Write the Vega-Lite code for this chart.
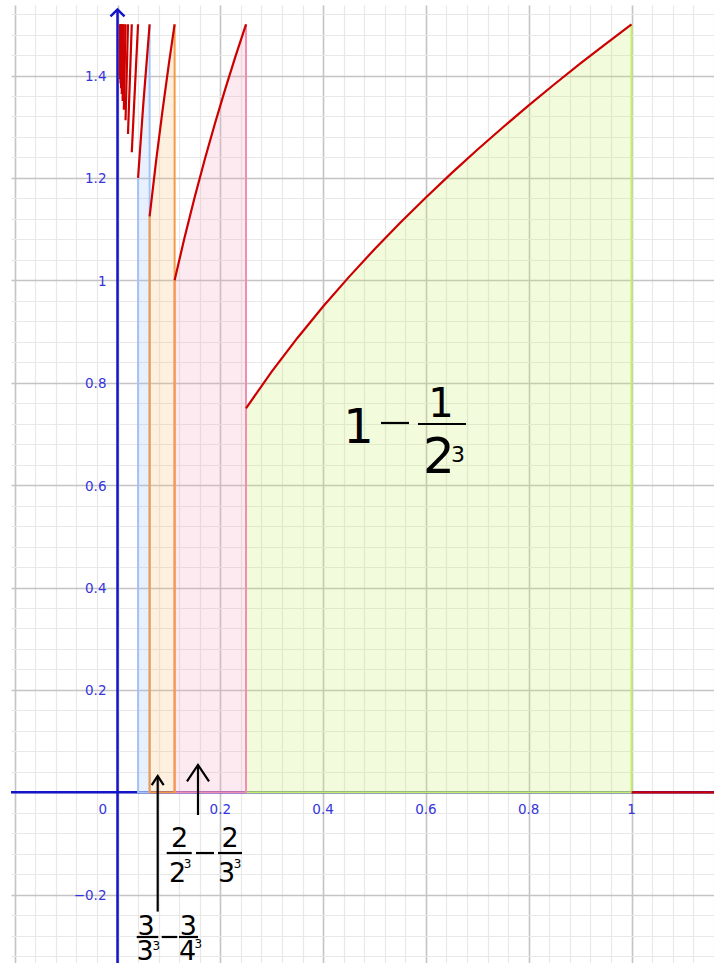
{
  "$schema": "https://vega.github.io/schema/vega-lite/v6.json",
  "width": 703,
  "height": 958,
  "autosize": {"type": "none"},
  "padding": {"left": 11, "top": 5, "right": 0, "bottom": 0},
  "background": "white",
  "config": {"view": {"stroke": null}},
  "datasets": {
    "curve": [
      {"seg": 1, "x": 0.25, "y": 0.75}, {"seg": 1, "x": 0.3, "y": 0.8216}, {"seg": 1, "x": 0.35, "y": 0.8874},
      {"seg": 1, "x": 0.4, "y": 0.9487}, {"seg": 1, "x": 0.45, "y": 1.0062}, {"seg": 1, "x": 0.5, "y": 1.0607},
      {"seg": 1, "x": 0.55, "y": 1.1124}, {"seg": 1, "x": 0.6, "y": 1.1619}, {"seg": 1, "x": 0.65, "y": 1.2093},
      {"seg": 1, "x": 0.7, "y": 1.255}, {"seg": 1, "x": 0.75, "y": 1.299}, {"seg": 1, "x": 0.8, "y": 1.3416},
      {"seg": 1, "x": 0.85, "y": 1.3829}, {"seg": 1, "x": 0.9, "y": 1.423}, {"seg": 1, "x": 0.95, "y": 1.462},
      {"seg": 1, "x": 1, "y": 1.5},
      {"seg": 2, "x": 0.1111, "y": 1.0}, {"seg": 2, "x": 0.13, "y": 1.0817}, {"seg": 2, "x": 0.15, "y": 1.1619},
      {"seg": 2, "x": 0.17, "y": 1.2369}, {"seg": 2, "x": 0.19, "y": 1.3077}, {"seg": 2, "x": 0.21, "y": 1.3748},
      {"seg": 2, "x": 0.23, "y": 1.4387}, {"seg": 2, "x": 0.25, "y": 1.5},
      {"seg": 3, "x": 0.0625, "y": 1.125}, {"seg": 3, "x": 0.075, "y": 1.2324}, {"seg": 3, "x": 0.0875, "y": 1.3311},
      {"seg": 3, "x": 0.1, "y": 1.423}, {"seg": 3, "x": 0.1111, "y": 1.5},
      {"seg": 4, "x": 0.04, "y": 1.2}, {"seg": 4, "x": 0.05, "y": 1.3416}, {"seg": 4, "x": 0.0625, "y": 1.5},
      {"seg": 5, "x": 0.02778, "y": 1.25}, {"seg": 5, "x": 0.04, "y": 1.5},
      {"seg": 6, "x": 0.02041, "y": 1.2857}, {"seg": 6, "x": 0.02778, "y": 1.5},
      {"seg": 7, "x": 0.01563, "y": 1.3125}, {"seg": 7, "x": 0.02041, "y": 1.5},
      {"seg": 8, "x": 0.01235, "y": 1.3333}, {"seg": 8, "x": 0.01563, "y": 1.5},
      {"seg": 9, "x": 0.01, "y": 1.35}, {"seg": 9, "x": 0.01235, "y": 1.5},
      {"seg": 10, "x": 0.00826, "y": 1.3636}, {"seg": 10, "x": 0.01, "y": 1.5},
      {"seg": 11, "x": 0.00694, "y": 1.375}, {"seg": 11, "x": 0.00826, "y": 1.5},
      {"seg": 12, "x": 0.00592, "y": 1.3846}, {"seg": 12, "x": 0.00694, "y": 1.5},
      {"seg": 13, "x": 0.0051, "y": 1.3929}, {"seg": 13, "x": 0.00592, "y": 1.5},
      {"seg": 14, "x": 0.00444, "y": 1.4}, {"seg": 14, "x": 0.0051, "y": 1.5},
      {"seg": 0, "x": 1, "y": 0}, {"seg": 0, "x": 1.1605, "y": 0}
    ],
    "outlines": [
      {"reg": "1", "o": 1, "x": 0.25, "y": 0.75}, {"reg": "1", "o": 2, "x": 0.25, "y": 0},
      {"reg": "1", "o": 3, "x": 1, "y": 0}, {"reg": "1", "o": 4, "x": 1, "y": 1.5},
      {"reg": "4", "o": 1, "x": 0.04, "y": 1.2}, {"reg": "4", "o": 2, "x": 0.04, "y": 0},
      {"reg": "4", "o": 3, "x": 0.0625, "y": 0}, {"reg": "4", "o": 4, "x": 0.0625, "y": 1.5},
      {"reg": "2", "o": 1, "x": 0.1111, "y": 1.0}, {"reg": "2", "o": 2, "x": 0.1111, "y": 0},
      {"reg": "2", "o": 3, "x": 0.25, "y": 0}, {"reg": "2", "o": 4, "x": 0.25, "y": 1.5},
      {"reg": "3", "o": 1, "x": 0.0625, "y": 1.125}, {"reg": "3", "o": 2, "x": 0.0625, "y": 0},
      {"reg": "3", "o": 3, "x": 0.1111, "y": 0}, {"reg": "3", "o": 4, "x": 0.1111, "y": 1.5}
    ],
    "axes": [
      {"x": -0.2072, "y": 0, "x2": 1.1605, "y2": 0},
      {"x": 0, "y": -0.3334, "x2": 0, "y2": 1.529}
    ],
    "axisTip": [{"x": 0, "y": 1.529}],
    "strokes": [
      {"x": 0.5126, "y": 0.7213, "x2": 0.5671, "y2": 0.7213},
      {"x": 0.5846, "y": 0.7193, "x2": 0.678, "y2": 0.7193},
      {"x": 0.0957, "y": -0.1186, "x2": 0.1444, "y2": -0.1186},
      {"x": 0.1527, "y": -0.1186, "x2": 0.1877, "y2": -0.1186},
      {"x": 0.1955, "y": -0.1186, "x2": 0.2422, "y2": -0.1186},
      {"x": 0.0374, "y": -0.2826, "x2": 0.0794, "y2": -0.2826},
      {"x": 0.086, "y": -0.2826, "x2": 0.1163, "y2": -0.2826},
      {"x": 0.1196, "y": -0.2826, "x2": 0.1566, "y2": -0.2826},
      {"x": 0.1566, "y": -0.0443, "x2": 0.1566, "y2": 0.0534},
      {"x": 0.0782, "y": -0.233, "x2": 0.0782, "y2": 0.0318}
    ],
    "heads": [
      {"x": 0.1566, "y": 0.0534, "k": "big"},
      {"x": 0.0782, "y": 0.0318, "k": "small"}
    ],
    "xLabels": [
      {"x": -0.0288, "y": -0.042, "t": "0"},
      {"x": 0.2, "y": -0.042, "t": "0.2"},
      {"x": 0.4, "y": -0.042, "t": "0.4"},
      {"x": 0.6, "y": -0.042, "t": "0.6"},
      {"x": 0.8, "y": -0.042, "t": "0.8"},
      {"x": 1, "y": -0.042, "t": "1"}
    ],
    "yLabels": [
      {"x": -0.0214, "y": -0.2, "t": "−0.2"},
      {"x": -0.0214, "y": 0.2, "t": "0.2"},
      {"x": -0.0214, "y": 0.4, "t": "0.4"},
      {"x": -0.0214, "y": 0.6, "t": "0.6"},
      {"x": -0.0214, "y": 0.8, "t": "0.8"},
      {"x": -0.0214, "y": 1, "t": "1"},
      {"x": -0.0214, "y": 1.2, "t": "1.2"},
      {"x": -0.0214, "y": 1.4, "t": "1.4"}
    ],
    "formula": [
      {"t": "1", "x": 0.4689, "y": 0.6822, "r": "whole"},
      {"t": "1", "x": 0.6294, "y": 0.733, "r": "num"},
      {"t": "2", "x": 0.6255, "y": 0.6236, "r": "den"},
      {"t": "3", "x": 0.6625, "y": 0.6451, "r": "sup"},
      {"t": "2", "x": 0.121, "y": -0.1068, "r": "d"},
      {"t": "2", "x": 0.1167, "y": -0.1746, "r": "d"},
      {"t": "3", "x": 0.1362, "y": -0.1479, "r": "s"},
      {"t": "2", "x": 0.2189, "y": -0.1068, "r": "d"},
      {"t": "3", "x": 0.2121, "y": -0.1746, "r": "d"},
      {"t": "3", "x": 0.2335, "y": -0.1479, "r": "s"},
      {"t": "3", "x": 0.0554, "y": -0.2787, "r": "d"},
      {"t": "3", "x": 0.0535, "y": -0.3275, "r": "d"},
      {"t": "3", "x": 0.0755, "y": -0.308, "r": "s"},
      {"t": "3", "x": 0.1377, "y": -0.2787, "r": "d"},
      {"t": "4", "x": 0.1362, "y": -0.3275, "r": "d"},
      {"t": "3", "x": 0.1572, "y": -0.3041, "r": "s"}
    ]
  },
  "encoding": {
    "x": {
      "field": "x",
      "type": "quantitative",
      "scale": {"domain": [-0.2072, 1.1605], "nice": false, "zero": false},
      "axis": {
        "title": null,
        "labels": false,
        "ticks": false,
        "domain": false,
        "grid": true,
        "values": [-0.2, -0.16, -0.12, -0.08, -0.04, 0, 0.04, 0.08, 0.12, 0.16, 0.2, 0.24, 0.28, 0.32, 0.36, 0.4, 0.44, 0.48, 0.52, 0.56, 0.6, 0.64, 0.68, 0.72, 0.76, 0.8, 0.84, 0.88, 0.92, 0.96, 1, 1.04, 1.08, 1.12, 1.16],
        "gridColor": {"condition": {"test": "abs(datum.value * 5 - round(datum.value * 5)) < 0.001", "value": "#c4c4c4"}, "value": "#e8e8e8"},
        "gridWidth": {"condition": {"test": "abs(datum.value * 5 - round(datum.value * 5)) < 0.001", "value": 1.6}, "value": 1.2}
      }
    },
    "y": {
      "field": "y",
      "type": "quantitative",
      "scale": {"domain": [-0.3334, 1.5377], "nice": false, "zero": false},
      "axis": {
        "title": null,
        "labels": false,
        "ticks": false,
        "domain": false,
        "grid": true,
        "values": [-0.32, -0.28, -0.24, -0.2, -0.16, -0.12, -0.08, -0.04, 0, 0.04, 0.08, 0.12, 0.16, 0.2, 0.24, 0.28, 0.32, 0.36, 0.4, 0.44, 0.48, 0.52, 0.56, 0.6, 0.64, 0.68, 0.72, 0.76, 0.8, 0.84, 0.88, 0.92, 0.96, 1, 1.04, 1.08, 1.12, 1.16, 1.2, 1.24, 1.28, 1.32, 1.36, 1.4, 1.44, 1.48, 1.52],
        "gridColor": {"condition": {"test": "abs(datum.value * 5 - round(datum.value * 5)) < 0.001", "value": "#c4c4c4"}, "value": "#e8e8e8"},
        "gridWidth": {"condition": {"test": "abs(datum.value * 5 - round(datum.value * 5)) < 0.001", "value": 1.6}, "value": 1.2}
      }
    }
  },
  "layer": [
    {
      "data": {"name": "curve"},
      "transform": [{"filter": "datum.seg >= 1 && datum.seg <= 4"}],
      "mark": {"type": "area", "fillOpacity": 0.22},
      "encoding": {
        "y2": {"datum": 0},
        "color": {
          "field": "seg",
          "type": "nominal",
          "scale": {"domain": [1, 2, 3, 4], "range": ["#c4ed60", "#f6a0bb", "#f6bb6e", "#9bbbf6"]},
          "legend": null
        }
      }
    },
    {
      "data": {"name": "axes"},
      "mark": {"type": "rule", "color": "#1414c8", "strokeWidth": 2.5},
      "encoding": {
        "x2": {"field": "x2"},
        "y2": {"field": "y2"}
      }
    },
    {
      "data": {"name": "axisTip"},
      "mark": {"type": "point", "shape": "M-1,1L0,0L1,1", "filled": false, "color": "#1414c8", "strokeWidth": 2.5, "size": 196, "opacity": 1}
    },
    {
      "data": {"name": "outlines"},
      "mark": {"type": "line", "strokeWidth": 2},
      "encoding": {
        "order": {"field": "o", "type": "quantitative"},
        "color": {
          "field": "reg",
          "type": "nominal",
          "scale": {"domain": ["1", "2", "3", "4"], "range": ["#c6ee6a", "#f28fb0", "#f59a45", "#a3c2f7"]},
          "legend": null
        }
      }
    },
    {
      "data": {"name": "curve"},
      "mark": {"type": "line", "color": "#cc0000", "strokeWidth": 2.2},
      "encoding": {
        "detail": {"field": "seg", "type": "nominal"}
      }
    },
    {
      "data": {"name": "strokes"},
      "mark": {"type": "rule", "color": "black", "strokeWidth": 2.2},
      "encoding": {
        "x2": {"field": "x2"},
        "y2": {"field": "y2"}
      }
    },
    {
      "data": {"name": "heads"},
      "transform": [{"filter": "datum.k == 'big'"}],
      "mark": {"type": "point", "shape": "M-1,1.5L0,0L1,1.5", "filled": false, "color": "black", "strokeWidth": 2.2, "size": 484, "opacity": 1}
    },
    {
      "data": {"name": "heads"},
      "transform": [{"filter": "datum.k == 'small'"}],
      "mark": {"type": "point", "shape": "M-1,1.5L0,0L1,1.5", "filled": false, "color": "black", "strokeWidth": 2.2, "size": 144, "opacity": 1}
    },
    {
      "data": {"name": "xLabels"},
      "mark": {"type": "text", "font": "DejaVu Sans", "fontSize": 13.5, "color": "#3535dd", "align": "center", "baseline": "alphabetic"},
      "encoding": {"text": {"field": "t"}}
    },
    {
      "data": {"name": "yLabels"},
      "mark": {"type": "text", "font": "DejaVu Sans", "fontSize": 13.5, "color": "#3535dd", "align": "right", "baseline": "middle", "dy": 1.5},
      "encoding": {"text": {"field": "t"}}
    },
    {
      "data": {"name": "formula"},
      "transform": [{"filter": "datum.r == 'whole'"}],
      "mark": {"type": "text", "font": "DejaVu Sans", "fontSize": 48, "color": "black", "align": "center", "baseline": "alphabetic"},
      "encoding": {"text": {"field": "t"}}
    },
    {
      "data": {"name": "formula"},
      "transform": [{"filter": "datum.r == 'num'"}],
      "mark": {"type": "text", "font": "DejaVu Sans", "fontSize": 40, "color": "black", "align": "center", "baseline": "alphabetic"},
      "encoding": {"text": {"field": "t"}}
    },
    {
      "data": {"name": "formula"},
      "transform": [{"filter": "datum.r == 'den'"}],
      "mark": {"type": "text", "font": "DejaVu Sans", "fontSize": 50, "color": "black", "align": "center", "baseline": "alphabetic"},
      "encoding": {"text": {"field": "t"}}
    },
    {
      "data": {"name": "formula"},
      "transform": [{"filter": "datum.r == 'sup'"}],
      "mark": {"type": "text", "font": "DejaVu Sans", "fontSize": 22, "color": "black", "align": "center", "baseline": "alphabetic"},
      "encoding": {"text": {"field": "t"}}
    },
    {
      "data": {"name": "formula"},
      "transform": [{"filter": "datum.r == 'd'"}],
      "mark": {"type": "text", "font": "DejaVu Sans", "fontSize": 27, "color": "black", "align": "center", "baseline": "alphabetic"},
      "encoding": {"text": {"field": "t"}}
    },
    {
      "data": {"name": "formula"},
      "transform": [{"filter": "datum.r == 's'"}],
      "mark": {"type": "text", "font": "DejaVu Sans", "fontSize": 12, "color": "black", "align": "center", "baseline": "alphabetic"},
      "encoding": {"text": {"field": "t"}}
    }
  ],
  "resolve": {"scale": {"color": "independent"}}
}
